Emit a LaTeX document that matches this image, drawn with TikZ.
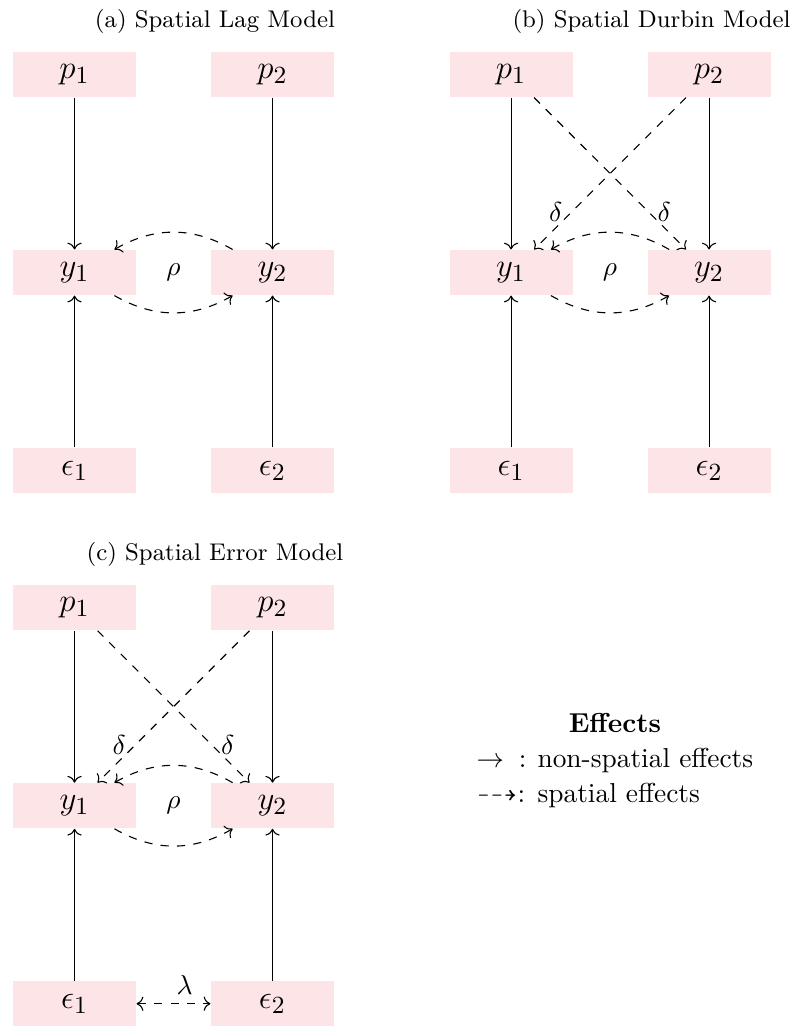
\documentclass[tikz,border=0pt]{standalone}
\usepackage{amssymb}
\usepackage{xcolor}
\usepackage{tikz}
\usetikzlibrary{arrows.meta,positioning,calc}
\definecolor{smpink}{HTML}{FDE4E6}
\definecolor{smink}{HTML}{000000}
\tikzset{
  varbox/.style={rectangle,fill=smpink,minimum width=1.578cm,minimum height=0.577cm,
                 inner sep=0pt,font=\fontsize{13}{15}\selectfont,text=smink},
  direct/.style={->,draw=smink},
  spill/.style={->,dashed,draw=smink},
  spilltwo/.style={<->,dashed,draw=smink},
  paneltitle/.style={font=\fontsize{8.8}{10.5}\selectfont,text=smink},
}

\begin{document}
\begin{tikzpicture}
  \useasboundingbox (0,0) rectangle (10.134,-13.162);
  % (a) spatial lag
  \node[paneltitle] (ta) at (2.758,-0.269) {(a) Spatial Lag Model};
  \node[varbox] (pa1) at (0.956,-0.956) {$p_1$};
  \node[varbox] (pa2) at (3.496,-0.956) {$p_2$};
  \node[varbox] (ya1) at (0.956,-3.496) {$y_1$};
  \node[varbox] (ya2) at (3.496,-3.496) {$y_2$};
  \node[varbox] (ea1) at (0.956,-6.036) {$\epsilon_1$};
  \node[varbox] (ea2) at (3.496,-6.036) {$\epsilon_2$};
  \node (ra) at ($(ya1)!0.5!(ya2)$) {$\rho$};
  \draw[direct] (pa1) -- (ya1);
  \draw[direct] (pa2) -- (ya2);
  \draw[direct] (ea1) -- (ya1);
  \draw[direct] (ea2) -- (ya2);
  \draw[spill] (ya1) to[bend right=30] (ya2);
  \draw[spill] (ya2) to[bend right=30] (ya1);
  % (b) spatial durbin
  \node[paneltitle] (tb) at (8.358,-0.269) {(b) Spatial Durbin Model};
  \node[varbox] (pb1) at (6.556,-0.956) {$p_1$};
  \node[varbox] (pb2) at (9.096,-0.956) {$p_2$};
  \node[varbox] (yb1) at (6.556,-3.496) {$y_1$};
  \node[varbox] (yb2) at (9.096,-3.496) {$y_2$};
  \node[varbox] (eb1) at (6.556,-6.036) {$\epsilon_1$};
  \node[varbox] (eb2) at (9.096,-6.036) {$\epsilon_2$};
  \node (rb) at ($(yb1)!0.5!(yb2)$) {$\rho$};
  \draw[direct] (pb1) -- (yb1);
  \draw[direct] (pb2) -- (yb2);
  \draw[direct] (eb1) -- (yb1);
  \draw[direct] (eb2) -- (yb2);
  \draw[spill] (pb1) -- node[pos=0.75,right] {$\delta$} (yb2);
  \draw[spill] (pb2) -- node[pos=0.75,left] {$\delta$} (yb1);
  \draw[spill] (yb1) to[bend right=30] (yb2);
  \draw[spill] (yb2) to[bend right=30] (yb1);
  % (c) spatial error
  \node[paneltitle] (tc) at (2.758,-7.109) {(c) Spatial Error Model};
  \node[varbox] (pc1) at (0.956,-7.796) {$p_1$};
  \node[varbox] (pc2) at (3.496,-7.796) {$p_2$};
  \node[varbox] (yc1) at (0.956,-10.336) {$y_1$};
  \node[varbox] (yc2) at (3.496,-10.336) {$y_2$};
  \node[varbox] (ec1) at (0.956,-12.876) {$\epsilon_1$};
  \node[varbox] (ec2) at (3.496,-12.876) {$\epsilon_2$};
  \node (rc) at ($(yc1)!0.5!(yc2)$) {$\rho$};
  \draw[direct] (pc1) -- (yc1);
  \draw[direct] (pc2) -- (yc2);
  \draw[direct] (ec1) -- (yc1);
  \draw[direct] (ec2) -- (yc2);
  \draw[spill] (pc1) -- node[pos=0.75,right] {$\delta$} (yc2);
  \draw[spill] (pc2) -- node[pos=0.75,left] {$\delta$} (yc1);
  \draw[spill] (yc1) to[bend right=30] (yc2);
  \draw[spill] (yc2) to[bend right=30] (yc1);
  \draw[spilltwo] (ec1) -- node[pos=0.65,above] {$\lambda$} (ec2);
  % legend
  \node[anchor=west,inner sep=0pt] (legend) at (6.106,-9.763) {%
    \begin{tabular}{@{}l@{\hspace{4pt}}l@{}}
      \multicolumn{2}{c}{\textbf{Effects}}\\[0.8pt]
      $\rightarrow$\hspace{5.5pt}: & non-spatial effects\\[0.8pt]
      $\dashrightarrow$: & spatial effects
    \end{tabular}};
\end{tikzpicture}
\end{document}
